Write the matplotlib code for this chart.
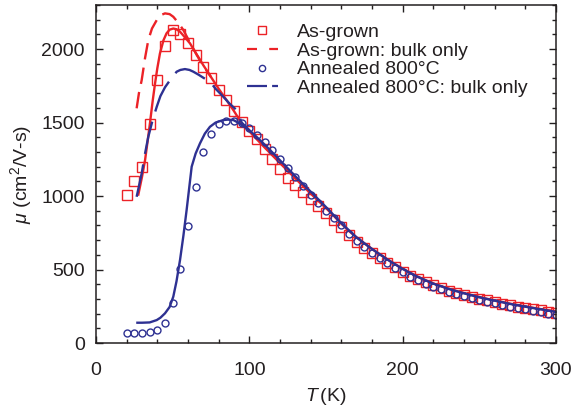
import numpy as np
import matplotlib
matplotlib.use("Agg")
import matplotlib.pyplot as plt
from matplotlib.lines import Line2D
from matplotlib.ticker import MultipleLocator

plt.rcParams['font.family'] = ['Liberation Sans', 'DejaVu Sans']
plt.rcParams['mathtext.fontset'] = 'custom'
plt.rcParams['mathtext.rm'] = 'Liberation Sans'
plt.rcParams['mathtext.it'] = 'Liberation Sans:italic'

red = '#ec2227'
blue = '#2e3192'
ink = '#231f20'

# measured points (every 5 K)
T_pts = list(range(20, 305, 5))
mu_grown = [1007, 1100, 1197, 1487, 1789, 2020, 2129, 2100, 2039, 1959,
            1878, 1800, 1721, 1653, 1580, 1501, 1444, 1390, 1320, 1255,
            1185, 1125, 1075, 1030, 982, 935, 888, 840, 790, 738,
            688, 648, 612, 578, 545, 515, 485, 458, 433, 412,
            392, 374, 357, 342, 328, 315, 302, 290, 279, 268,
            258, 248, 239, 230, 222, 214, 207]
mu_anneal = [70, 70, 70, 75, 88, 134, 272, 505, 796, 1063,
             1301, 1422, 1490, 1512, 1512, 1494, 1460, 1415, 1370, 1310,
             1250, 1190, 1130, 1070, 1010, 950, 900, 850, 800, 745,
             695, 650, 612, 576, 542, 510, 480, 452, 426, 402,
             383, 365, 348, 333, 320, 306, 293, 281, 270, 258,
             248, 238, 228, 219, 210, 200, 192]

# model curves
T_fit_grown = [27.6, 30, 32, 34, 35.2, 37, 38.5, 40, 41.7, 44, 46, 48, 50.4, 52.5,
               54.8, 58, 61.3, 65, 70, 75, 80, 85, 90, 95, 100, 105, 110, 115,
               120, 125, 130, 135, 140, 145, 150, 155, 160, 165, 170, 175, 180,
               185, 190, 195, 200, 205, 210, 215, 220, 225, 230, 235, 240, 245,
               250, 255, 260, 265, 270, 275, 280, 285, 290, 295, 300]
mu_fit_grown = [1010, 1130, 1245, 1400, 1497, 1650, 1766, 1870, 1970, 2060, 2107, 2132,
                2140, 2135, 2118, 2080, 2039, 1975, 1890, 1810, 1730, 1655, 1578,
                1495, 1440, 1385, 1330, 1277, 1224, 1172, 1120, 1068, 1017, 967,
                918, 866, 812, 762, 718, 678, 640, 604, 570, 537, 506, 477, 451,
                427, 406, 387, 370, 354, 340, 326, 313, 301, 290, 279, 268, 258,
                249, 240, 231, 223, 215]

T_bulk_grown = [26.5, 28, 29.8, 32, 34.1, 36.5, 39.6, 42, 45, 48, 50.4, 54, 57, 61,
                65.7, 70, 75]
mu_bulk_grown = [1597, 1700, 1789, 1940, 2061, 2140, 2197, 2230, 2243, 2238, 2220,
                 2175, 2129, 2050, 1960, 1885, 1810]

T_fit_anneal = [27, 30, 35, 39.6, 42, 45, 48, 50.4, 52.5, 54.8, 57, 59.1, 62.4, 65,
                67.8, 71, 74.3, 78, 83, 86, 89.6, 93, 98.3, 100, 105, 110, 115, 120,
                125, 130, 135, 140, 150, 160, 170, 180, 190, 200, 210, 220, 230,
                240, 250, 260, 270, 280, 290, 300]
mu_fit_anneal = [138, 138, 140, 156, 172, 202, 245, 315, 420, 565, 730, 905, 1200,
                 1290, 1358, 1425, 1471, 1500, 1517, 1520, 1517, 1498, 1460, 1448,
                 1400, 1350, 1297, 1243, 1189, 1135, 1082, 1030, 925, 815, 718, 640,
                 568, 504, 449, 404, 368, 338, 311, 288, 266, 247, 229, 212]

T_bulk_anneal = [26.5, 29.8, 32, 34.1, 37, 39.6, 42, 45, 48.3, 52.6, 55, 58, 61,
                 63.5, 67, 70, 74.3, 78, 83, 87, 91.7, 95, 100]
mu_bulk_anneal = [995, 1154, 1290, 1403, 1520, 1607, 1680, 1740, 1789, 1846, 1858,
                  1864, 1858, 1846, 1825, 1805, 1779, 1730, 1676, 1630, 1585, 1500, 1448]

fig = plt.figure(figsize=(5.76, 4.12), dpi=100)
ax = fig.add_axes([96 / 576, 1 - 343 / 412, 460 / 576, 338 / 412])

ax.plot(T_pts, mu_grown, ls='none', marker='s', ms=6.5, mfc='none', mec=red, mew=1.0)
ax.plot(T_bulk_grown, mu_bulk_grown, color=red, lw=1.7, ls=(0, (7, 3.5)))
ax.plot(T_fit_grown, mu_fit_grown, color=red, lw=1.7)
ax.plot(T_pts, mu_anneal, ls='none', marker='o', ms=5, mfc='none', mec=blue, mew=1.0)
ax.plot(T_bulk_anneal, mu_bulk_anneal, color=blue, lw=1.7, ls=(0, (14, 4.5)))
ax.plot(T_fit_anneal, mu_fit_anneal, color=blue, lw=1.7)

ax.set_xlim(0, 300)
ax.set_ylim(0, 2300)
ax.xaxis.set_major_locator(MultipleLocator(100))
ax.xaxis.set_minor_locator(MultipleLocator(20))
ax.yaxis.set_major_locator(MultipleLocator(500))
ax.yaxis.set_minor_locator(MultipleLocator(100))
ax.tick_params(which='both', direction='in', top=True, right=True, colors=ink,
               labelsize=14, width=1.0)
ax.tick_params(which='major', length=5)
ax.tick_params(axis='y', which='major', pad=8)
ax.tick_params(axis='x', which='major', pad=14)
ax.tick_params(which='minor', length=3)
for s in ax.spines.values():
    s.set_linewidth(1.1)
    s.set_color(ink)

ax.set_xlabel(r'$T\,$(K)', fontsize=14, color=ink, labelpad=5)
ax.set_ylabel(r'$\mu$ (cm$^2$/V-s)', fontsize=14, color=ink, labelpad=5)

handles = [
    Line2D([], [], ls='none', marker='s', ms=5.5, mfc='none', mec=red, mew=1.0),
    Line2D([], [], color=red, lw=1.6, ls=(0, (4.5, 5.5))),
    Line2D([], [], ls='none', marker='o', ms=4.5, mfc='none', mec=blue, mew=1.0),
    Line2D([], [], color=blue, lw=1.6, ls=(0, (9, 2.3))),
]
labels = ['As-grown', 'As-grown: bulk only', 'Annealed 800°C', 'Annealed 800°C: bulk only']
leg = ax.legend(handles, labels, loc='upper left', bbox_to_anchor=(0.328, 0.945),
                frameon=False, fontsize=14, handlelength=1.6, handletextpad=1.0,
                labelspacing=0.05, borderpad=0, borderaxespad=0)
for t in leg.get_texts():
    t.set_color(ink)

fig.savefig('out.png', dpi=100)
